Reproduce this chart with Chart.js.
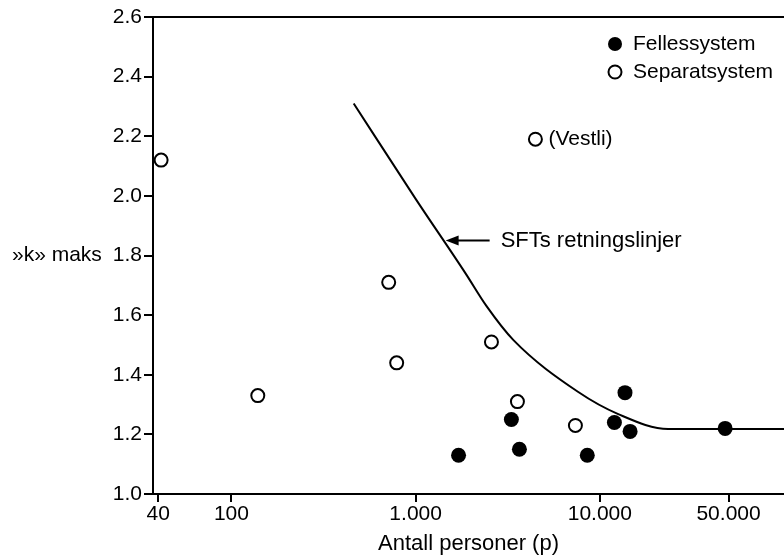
<!DOCTYPE html>
<html>
<head>
<meta charset="utf-8">
<script src="https://cdn.jsdelivr.net/npm/chart.js@4/dist/chart.umd.min.js"></script>
<style>
html, body { margin: 0; padding: 0; background: #fff; }
#wrap { width: 784px; height: 557px; }
</style>
</head>
<body>
<div id="wrap"><canvas id="chart"></canvas></div>
<script>
var xTicks = [40, 100, 1000, 10000, 50000]
var xTickLabels = ['40', '100', '1.000', '10.000', '50.000']
var yTicks = [1.0, 1.2, 1.4, 1.6, 1.8, 2.0, 2.2, 2.4, 2.6]

// Fellessystem (filled)
var fellesX = [1710, 3310, 3660, 8550, 12000, 13700, 14600, 47900]
var fellesY = [1.13, 1.25, 1.15, 1.13, 1.24, 1.34, 1.21, 1.22]

// Separatsystem (open), last one is Vestli
var separatX = [41.5, 139, 714, 789, 2580, 3570, 7370, 4470]
var separatY = [2.12, 1.33, 1.71, 1.44, 1.51, 1.31, 1.23, 2.19]

// SFTs retningslinjer
var sftX = [461, 1000, 1866, 2427, 3398, 7640, 12590, 23500, 100000]
var sftY = [2.31, 1.99, 1.74, 1.63, 1.516, 1.342, 1.268, 1.218, 1.218]

var arrowTip = [1455, 1.85]

var FONT = '"Liberation Sans", Arial, Helvetica, sans-serif'
Chart.defaults.font.family = FONT
Chart.defaults.font.size = 21
Chart.defaults.color = '#000'

function toPoints(xs, ys) {
    var out = []
    for (var i = 0; i < xs.length; i++) out.push({ x: xs[i], y: ys[i] })
    return out
}

var overlay = {
    id: 'overlay',
    afterDraw: function (chart) {
        var c = chart.ctx
        var xs = chart.scales.x, ys = chart.scales.y, area = chart.chartArea
        c.save()
        c.font = '21px ' + FONT
        c.fillStyle = '#000'
        c.strokeStyle = '#000'
        c.textBaseline = 'middle'
        c.textAlign = 'left'

        // y axis title, horizontal
        c.fillText('\u00bbk\u00bb maks', 12, ys.getPixelForValue(1.8))

        // Vestli label
        var n = separatX.length - 1
        var vx = xs.getPixelForValue(separatX[n]), vy = ys.getPixelForValue(separatY[n])
        c.fillText('(Vestli)', vx + 13, vy)

        // arrow + label
        var ax = xs.getPixelForValue(arrowTip[0]), ay = ys.getPixelForValue(arrowTip[1])
        c.lineWidth = 2
        c.beginPath()
        c.moveTo(ax + 10, ay)
        c.lineTo(ax + 44, ay)
        c.stroke()
        c.beginPath()
        c.moveTo(ax, ay)
        c.lineTo(ax + 13, ay - 5)
        c.lineTo(ax + 13, ay + 5)
        c.closePath()
        c.fill()
        c.font = '22px ' + FONT
        c.fillText('SFTs retningslinjer', ax + 55, ay)

        // legend
        c.font = '21px ' + FONT
        var lx = area.right - 169, ly = area.top + 27
        c.beginPath()
        c.arc(lx, ly, 7, 0, Math.PI * 2)
        c.fill()
        c.fillText('Fellessystem', lx + 18, ly)
        c.beginPath()
        c.arc(lx, ly + 28, 6.5, 0, Math.PI * 2)
        c.lineWidth = 2
        c.stroke()
        c.fillText('Separatsystem', lx + 18, ly + 28)
        c.restore()
    }
}

const ctx = document.getElementById('chart')
new Chart(ctx, {
    type: 'scatter',
    data: {
        datasets: [{
            label: 'Fellessystem',
            data: toPoints(fellesX, fellesY),
            pointRadius: 7.5,
            pointBackgroundColor: '#000',
            pointBorderWidth: 0
        }, {
            label: 'Separatsystem',
            data: toPoints(separatX, separatY),
            pointRadius: 6.5,
            pointBackgroundColor: '#fff',
            pointBorderColor: '#000',
            pointBorderWidth: 2
        }, {
            label: 'SFTs retningslinjer',
            data: toPoints(sftX, sftY),
            showLine: true,
            pointRadius: 0,
            borderColor: '#000',
            borderWidth: 2,
            cubicInterpolationMode: 'monotone'
        }]
    },
    options: {
        responsive: true,
        maintainAspectRatio: false,
        animation: false,
        events: [],
        layout: { autoPadding: false, padding: { top: 17, left: 0, right: 0, bottom: 0 } },
        scales: {
            x: {
                type: 'logarithmic',
                min: 37.5,
                max: 100000,
                afterBuildTicks: function (s) {
                    s.ticks = xTicks.map(function (v) { return { value: v } })
                },
                ticks: {
                    autoSkip: false,
                    maxRotation: 0,
                    padding: 0,
                    callback: function (v, i) { return xTickLabels[i] }
                },
                grid: { drawOnChartArea: false, tickLength: 8, lineWidth: 2, color: '#000' },
                border: { color: '#000', width: 2 },
                title: { display: true, text: 'Antall personer (p)', padding: 0, font: { size: 22 } },
                afterFit: function (s) {
                    s.height = 63
                    s.paddingRight = 0
                    s.paddingLeft = 0
                }
            },
            y: {
                min: 1.0,
                max: 2.6,
                afterBuildTicks: function (s) {
                    s.ticks = yTicks.map(function (v) { return { value: v } })
                },
                ticks: {
                    padding: 2,
                    callback: function (v) { return v.toFixed(1) }
                },
                grid: {
                    color: function (c) { return c.tick && c.tick.value === 2.6 ? '#000' : 'rgba(0,0,0,0)' },
                    tickColor: '#000',
                    tickLength: 9,
                    lineWidth: 2
                },
                border: { color: '#000', width: 2 },
                afterFit: function (s) {
                    s.width = 153
                    s.paddingTop = 0
                    s.paddingBottom = 0
                }
            }
        },
        plugins: {
            legend: { display: false },
            tooltip: { enabled: false }
        }
    },
    plugins: [overlay]
});
</script>
</body>
</html>
